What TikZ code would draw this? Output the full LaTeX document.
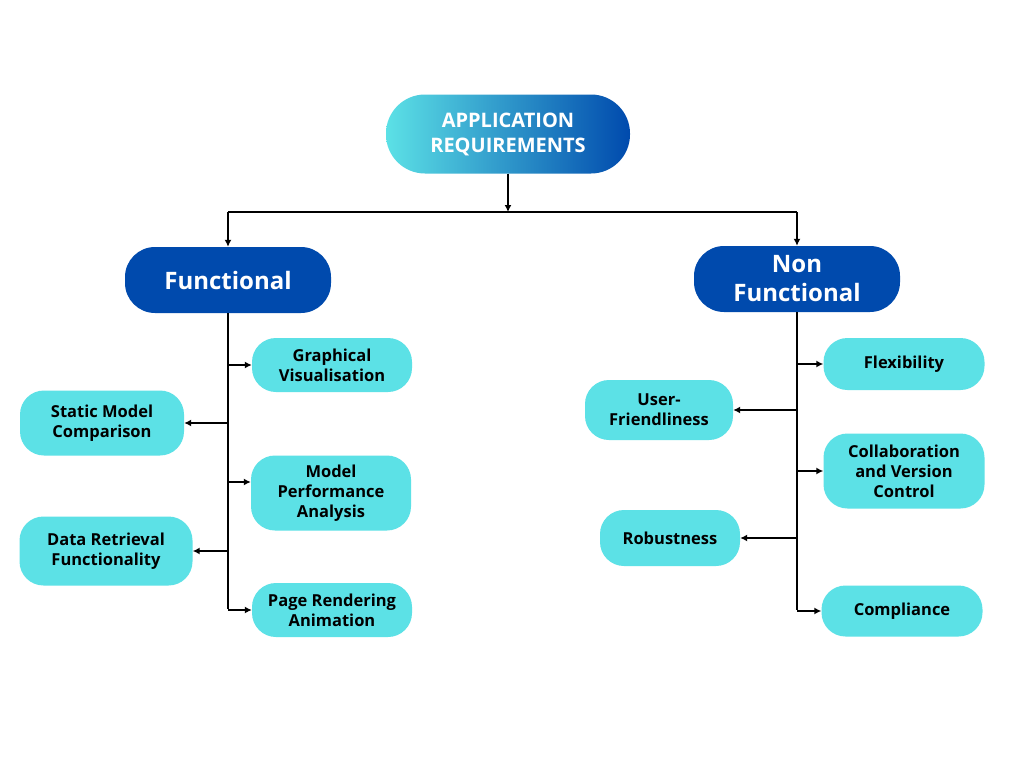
\documentclass[tikz,border=0pt]{standalone}
\usepackage{fontspec}
\setmainfont{Open Sans}
\usepackage{xcolor}
\usetikzlibrary{arrows.meta}

\definecolor{lightcyan}{HTML}{5CE1E6}
\definecolor{darkblue}{HTML}{004AAD}

\tikzset{
  leaf/.style={fill=lightcyan,rounded corners=24pt,align=center,font=\bfseries\fontsize{16.5}{20}\selectfont,text=black,inner sep=0pt},
  branch/.style={fill=darkblue,rounded corners=30pt,align=center,font=\bfseries\fontsize{24}{29}\selectfont,text=white,inner sep=0pt,minimum width=206pt,minimum height=66pt},
  link/.style={line width=1.6pt,-{Latex[length=7pt,width=7pt]}},
  trunk/.style={line width=1.6pt}
}

\begin{document}
\begin{tikzpicture}[x=1pt,y=-1pt]
            \fill[white] (0,0) rectangle (1024,768);
            \useasboundingbox (0,0) rectangle (1024,768);

            \node (app) at (508,134) [rounded corners=39pt,left color=lightcyan,right color=darkblue,minimum width=244pt,minimum height=79pt,align=center,text=white,inner sep=0pt,font=\bfseries\fontsize{20}{25}\selectfont] {APPLICATION\\REQUIREMENTS};
            \coordinate (split) at (508,212);

            \node (func) at (228,280) [branch] {Functional};
            \node (nonf) at (797,279) [branch] {Non\\Functional};

            % functional side
            \node (gv) at (332,365) [leaf,minimum width=160pt,minimum height=54pt] {Graphical\\Visualisation};
            \node (smc) at (102,423) [leaf,minimum width=164pt,minimum height=65pt] {Static Model\\Comparison};
            \node (mpa) at (331,493) [leaf,minimum width=160pt,minimum height=75pt] {Model\\Performance\\Analysis};
            \node (drf) at (106,551) [leaf,minimum width=173pt,minimum height=69pt] {Data Retrieval\\Functionality};
            \node (pra) at (332,610) [leaf,minimum width=160pt,minimum height=54pt] {Page Rendering\\Animation};

            % non functional side
            \node (flex) at (904,364) [leaf,minimum width=161pt,minimum height=52pt] {Flexibility};
            \node (uf) at (659,410) [leaf,minimum width=148pt,minimum height=60pt] {User-\\Friendliness};
            \node (cvc) at (904,471) [leaf,minimum width=161pt,minimum height=75pt] {Collaboration\\and Version\\Control};
            \node (rob) at (670,538) [leaf,minimum width=140pt,minimum height=56pt] {Robustness};
            \node (comp) at (902,611) [leaf,minimum width=161pt,minimum height=51pt] {Compliance};

            \draw[link] (app.south) -- (split);
            \draw[trunk] (func.north |- split) -- (nonf.north |- split);
            \draw[link] (func.north |- split) -- (func.north);
            \draw[link] (nonf.north |- split) -- (nonf.north);

            \draw[trunk] (func.south) -- ([yshift=1pt]func.south |- pra.west);
            \draw[link] (func.south |- gv.west) -- (gv.west);
            \draw[link] (func.south |- smc.east) -- (smc.east);
            \draw[link] (func.south |- 0,482) -- (mpa.west |- 0,482);
            \draw[link] (func.south |- drf.east) -- (drf.east);
            \draw[link] (func.south |- pra.west) -- (pra.west);

            \draw[trunk] (nonf.south) -- ([yshift=1pt]nonf.south |- comp.west);
            \draw[link] (nonf.south |- flex.west) -- (flex.west);
            \draw[link] (nonf.south |- uf.east) -- (uf.east);
            \draw[link] (nonf.south |- cvc.west) -- (cvc.west);
            \draw[link] (nonf.south |- rob.east) -- (rob.east);
            \draw[link] (nonf.south |- comp.west) -- (comp.west);

        \end{tikzpicture}
\end{document}
